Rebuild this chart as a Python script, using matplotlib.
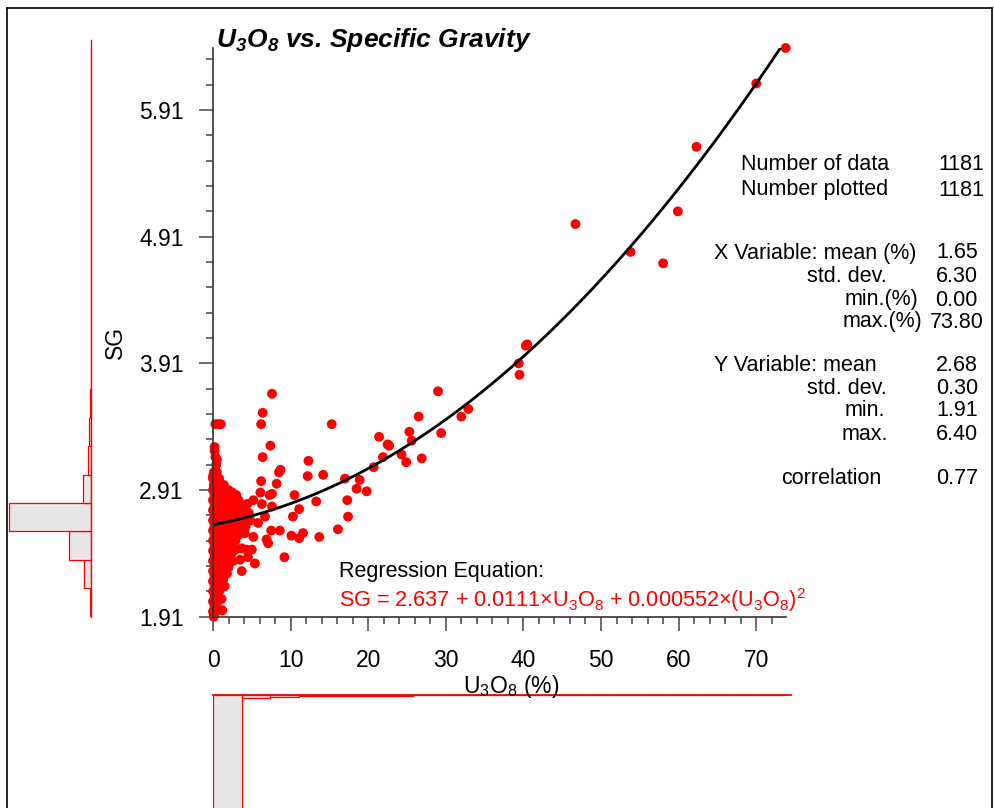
import numpy as np
import matplotlib.pyplot as plt
from matplotlib.lines import Line2D

plt.rcParams['font.family'] = ['Liberation Sans', 'DejaVu Sans']
plt.rcParams['mathtext.fontset'] = 'custom'
plt.rcParams['mathtext.rm'] = 'Liberation Sans'
plt.rcParams['mathtext.it'] = 'Liberation Sans:italic'
plt.rcParams['mathtext.bf'] = 'Liberation Sans:bold'
plt.rcParams['mathtext.bfit'] = 'Liberation Sans:italic:bold'

# points (U3O8 %, SG)
sparse_pts = [
    (73.8, 6.40), (70.0, 6.12), (62.3, 5.62), (59.9, 5.11), (58.0, 4.70), (53.8, 4.79), (46.7, 5.01),
    (40.5, 4.06), (40.3, 4.05), (39.4, 3.91), (39.5, 3.82),
    (32.9, 3.55), (32.0, 3.49), (29.0, 3.69), (29.4, 3.36), (26.5, 3.49), (26.9, 3.16),
    (25.3, 3.37), (25.6, 3.30), (24.3, 3.19), (24.9, 3.13), (22.5, 3.27), (22.7, 3.26),
    (21.4, 3.33), (21.9, 3.17), (20.7, 3.09), (19.8, 2.90), (18.9, 2.99), (18.5, 2.92),
    (17.0, 3.00), (17.3, 2.83), (17.4, 2.70), (16.1, 2.60), (15.3, 3.43), (14.2, 3.03),
    (13.3, 2.82), (13.7, 2.54), (12.3, 3.14), (12.2, 3.02), (11.6, 2.57), (11.1, 2.76),
    (11.1, 2.53), (10.5, 2.87), (10.3, 2.70), (10.1, 2.55), (9.2, 2.38), (8.7, 3.07),
    (8.5, 3.05), (8.6, 2.59), (8.2, 2.96), (7.6, 3.67), (7.6, 2.88), (7.4, 3.26), (7.5, 2.59),
    (7.3, 2.87), (7.6, 2.78), (7.1, 2.49), (6.9, 2.52), (6.7, 2.70), (6.4, 3.52), (6.2, 3.43),
    (6.4, 3.17), (6.2, 2.98), (6.1, 2.89), (6.3, 2.80), (5.8, 2.65), (5.2, 2.83), (5.2, 2.54),
    (5.4, 2.33), (5.0, 2.44), (4.8, 2.67), (4.5, 2.38), (4.3, 2.44), (4.1, 2.57), (3.7, 2.45),
    (3.7, 2.27), (3.5, 2.36), (2.5, 2.89), (2.0, 2.30), (1.3, 2.20), (1.2, 1.96),
    (0.3, 3.43), (0.7, 3.43), (1.0, 3.43), (0.2, 3.25), (0.2, 3.22), (0.3, 3.17), (0.5, 3.15),
    (0.4, 3.11), (0.0, 3.02), (0.2, 1.97), (0.1, 1.91), (4.4, 2.80), (4.6, 2.73), (4.2, 2.62),
    (2.6, 2.35), (2.4, 2.41), (2.9, 2.44), (1.8, 2.25), (1.5, 2.15), (1.1, 2.05),
]

# amas dense près de l'origine : (SG, liste des U3O8)
blob_rows = [
    (3.05, [0.1, 0.5]),
    (3.00, [0.0, 0.3, 0.8]),
    (2.95, [0.1, 0.5, 1.0, 1.4]),
    (2.91, [0.0, 0.4, 0.9, 1.5, 2.0]),
    (2.87, [0.2, 0.7, 1.2, 1.8, 2.4, 3.0]),
    (2.83, [0.0, 0.5, 1.0, 1.6, 2.2, 2.8, 3.3]),
    (2.79, [0.2, 0.7, 1.3, 1.9, 2.5, 3.1, 3.6]),
    (2.75, [0.0, 0.5, 1.0, 1.6, 2.2, 2.8, 3.4, 3.9]),
    (2.71, [0.2, 0.8, 1.4, 2.0, 2.6, 3.2, 3.8]),
    (2.67, [0.0, 0.5, 1.1, 1.7, 2.3, 2.9, 3.5, 4.1]),
    (2.63, [0.2, 0.8, 1.4, 2.0, 2.6, 3.2, 3.8]),
    (2.59, [0.0, 0.5, 1.1, 1.7, 2.3, 2.9, 3.5]),
    (2.55, [0.2, 0.8, 1.4, 2.0, 2.6, 3.2]),
    (2.51, [0.0, 0.5, 1.1, 1.7, 2.3, 2.9]),
    (2.47, [0.2, 0.8, 1.4, 2.0, 2.6]),
    (2.43, [0.0, 0.5, 1.1, 1.7, 2.3]),
    (2.39, [0.2, 0.8, 1.4, 2.0]),
    (2.35, [0.0, 0.5, 1.1, 1.6]),
    (2.31, [0.2, 0.8, 1.3]),
    (2.27, [0.0, 0.5, 1.0]),
    (2.23, [0.2, 0.7, 1.2]),
    (2.19, [0.0, 0.5, 0.9]),
    (2.15, [0.2, 0.6]),
    (2.11, [0.0, 0.4, 0.8]),
    (2.07, [0.2, 0.6]),
    (2.03, [0.0, 0.4]),
    (1.99, [0.2, 0.5]),
    (1.95, [0.0, 0.3]),
    (1.92, [0.1]),
]

# histogrammes (20 classes)
sg_counts = [12, 69, 201, 760, 76, 26, 19, 7, 2, 2, 0, 0, 2, 1, 1, 0, 1, 0, 1, 1]
u_counts = [1096, 28, 15, 8, 5, 6, 6, 3, 3, 0, 3, 1, 1, 0, 1, 1, 2, 0, 1, 1]

# régression
coef = [2.637, 0.0111, 0.000552]

stats_labels = [
    ("Number of data", 741, 164), ("Number plotted", 741, 190),
    ("X Variable: mean (%)", 714, 253), ("std. dev.", 807, 277),
    ("min.(%)", 845, 300), ("max.(%)", 843, 322),
    ("Y Variable: mean", 714, 365), ("std. dev.", 807, 388),
    ("min.", 845, 411), ("max.", 842, 434),
    ("correlation", 781, 479),
]
# valeurs alignées à droite
stats_values = [
    ("1181", 984, 164), ("1181", 984, 190),
    ("1.65", 978, 253), ("6.30", 978, 277), ("0.00", 978, 300), ("73.80", 984, 322),
    ("2.68", 978, 365), ("0.30", 978, 388), ("1.91", 978, 411), ("6.40", 978, 434),
    ("0.77", 978, 479),
]

xmin, xmax = 0.0, 73.8
ymin, ymax = 1.91, 6.40

W, H = 994, 808
fig = plt.figure(figsize=(W / 100, H / 100), dpi=100)


def fx(px):
    return px / W


def fy(py):
    return 1 - py / H


# axe principal
x0, x1, ytop, ybot = 213, 785.7, 48, 616.7
ax = fig.add_axes([fx(x0), fy(ybot), fx(x1) - fx(x0), fy(ytop) - fy(ybot)])

px_list = [p[0] for p in sparse_pts]
py_list = [p[1] for p in sparse_pts]
for sg, xs in blob_rows:
    for xv in xs:
        px_list.append(xv)
        py_list.append(sg)

ax.scatter(px_list, py_list, s=50, color='#ff0000', edgecolors='none', clip_on=False, zorder=2)

xc = np.linspace(0.3, xmax, 300)
yc = coef[0] + coef[1] * xc + coef[2] * xc ** 2
ax.plot(xc, yc, color='black', linewidth=2, zorder=3)

ax.set_xlim(xmin, xmax)
ax.set_ylim(ymin, ymax)
ax.set_xticks(np.arange(0, 71, 10))
ax.set_xticks(np.arange(0, 73, 2), minor=True)
ax.set_yticks([1.91, 2.91, 3.91, 4.91, 5.91])
ax.set_yticks(np.arange(1.91, 6.40, 0.2), minor=True)
ax.set_yticklabels(["1.91", "2.91", "3.91", "4.91", "5.91"])
for s in ['top', 'right']:
    ax.spines[s].set_visible(False)
for s in ['left', 'bottom']:
    ax.spines[s].set_color('#333333')
    ax.spines[s].set_linewidth(1.2)
ax.tick_params(which='major', length=10, width=1.2, color='#555555', labelsize=16.5)
ax.tick_params(which='minor', length=5, width=1.2, color='#555555')
ax.tick_params(axis='y', which='major', pad=11)
ax.tick_params(axis='x', which='major', pad=13)

# histogramme SG à gauche
axl = fig.add_axes([fx(7), fy(ybot), fx(91) - fx(7), fy(ytop) - fy(ybot)])
bw = (ymax - ymin) / len(sg_counts)
sg_edges = ymin + bw * np.arange(len(sg_counts))
axl.barh(sg_edges, sg_counts, height=bw, align='edge', color='#e6e6e6',
         edgecolor='#ff0000', linewidth=0.9)
axl.plot([0, 0], [ymin, 6.46], color='#ff0000', linewidth=1, clip_on=False)
axl.set_xlim(778, 0)
axl.set_ylim(ymin, ymax)
axl.axis('off')

# histogramme U3O8 en bas
axb = fig.add_axes([fx(x0), 0, fx(x1) - fx(x0), fy(695)])
uw = (xmax - xmin) / len(u_counts)
u_edges = xmin + uw * np.arange(len(u_counts))
axb.bar(u_edges, u_counts, width=uw, align='edge', color='#e6e6e6',
        edgecolor='#ff0000', linewidth=0.9)
axb.plot([0, 74.5], [0, 0], color='#ff0000', linewidth=1.3, clip_on=False)
axb.set_xlim(xmin, xmax)
axb.set_ylim(1050, 0)
axb.axis('off')

# textes
fig.text(fx(216), fy(47), r'U$_\mathbfit{3}$O$_\mathbfit{8}$ vs. Specific Gravity',
         fontsize=19, fontweight='bold', fontstyle='italic', ha='left', va='baseline')
fig.text(fx(115), fy(342), "SG", fontsize=16.5, rotation=90, ha='center', va='center')
fig.text(fx(511), fy(686), r'U$_\mathrm{3}$O$_\mathrm{8}$ (%)', fontsize=16.5, ha='center', va='center')

fig.text(fx(339), fy(572), "Regression Equation:", fontsize=15.5, ha='left', va='center')
fig.text(fx(339), fy(600),
         r'SG = 2.637 + 0.0111×U$_\mathrm{3}$O$_\mathrm{8}$ + 0.000552×(U$_\mathrm{3}$O$_\mathrm{8}$)$^\mathrm{2}$',
         fontsize=15.6, color='#ff0000', ha='left', va='center')

for txt, x, y in stats_labels:
    fig.text(fx(x), fy(y), txt, fontsize=15.5, ha='left', va='center')
for txt, x, y in stats_values:
    fig.text(fx(x), fy(y), txt, fontsize=15.5, ha='right', va='center')

# cadre
frame_kw = dict(transform=fig.transFigure, color='black', linewidth=1.2)
fig.add_artist(Line2D([fx(7), fx(7)], [0, fy(8)], **frame_kw))
fig.add_artist(Line2D([fx(7), fx(992)], [fy(8), fy(8)], **frame_kw))
fig.add_artist(Line2D([fx(992), fx(992)], [0, fy(8)], **frame_kw))

plt.savefig("out.png", dpi=100)
